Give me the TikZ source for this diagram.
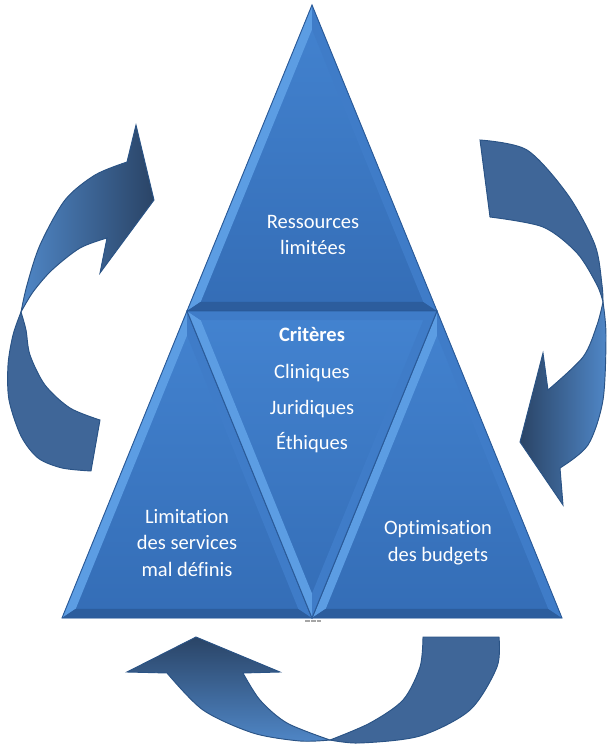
\documentclass[tikz,border=0pt]{standalone}
\usepackage{fontspec}
\setmainfont{Carlito}[Ligatures=NoCommon]
\usetikzlibrary{calc}

\definecolor{facetop}{HTML}{4383D0}
\definecolor{facebot}{HTML}{346DB6}
\definecolor{bevlight}{HTML}{5C9DE3}
\definecolor{bevmid}{HTML}{3F7CC8}
\definecolor{bevdark}{HTML}{2C5D9D}
\definecolor{edgeline}{HTML}{2A5A98}
\definecolor{arrowflat}{HTML}{3F6698}
\definecolor{arrowline}{HTML}{2A5385}
\definecolor{arrowlight}{HTML}{4F86C6}
\definecolor{arrowdark}{HTML}{2A4466}

\tikzset{
	lbl/.style={text=white, font=\fontsize{17.5}{23}\selectfont, align=center, inner sep=0pt},
	arrowback/.style={fill=arrowflat, draw=arrowline, line width=0.8pt},
	arrowfront/.style={draw=arrowline, line width=0.8pt},
}

\newcommand{\facet}[7]{%
	\shade[top color=facetop, bottom color=facebot] (#1) -- (#2) -- (#3) -- cycle;
	\fill[#5] (#1) -- (#2) -- ($(#4)!0.89!(#2)$) -- ($(#4)!0.89!(#1)$) -- cycle;
	\fill[#6] (#2) -- (#3) -- ($(#4)!0.89!(#3)$) -- ($(#4)!0.89!(#2)$) -- cycle;
	\fill[#7] (#3) -- (#1) -- ($(#4)!0.89!(#1)$) -- ($(#4)!0.89!(#3)$) -- cycle;
	\draw[edgeline, line width=0.8pt] (#1) -- (#2) -- (#3) -- cycle;
}

\begin{document}
\begin{tikzpicture}[x=0.03cm, y=-0.03cm]
	\useasboundingbox (0,0) rectangle (608,744);

	\coordinate (T) at (312,5);
	\coordinate (ML) at (187,311);
	\coordinate (MR) at (437,311);
	\coordinate (BL) at (62,618);
	\coordinate (BM) at (312,618);
	\coordinate (BR) at (562,618);
	\coordinate (it) at (312,227);
	\coordinate (il) at (187,534);
	\coordinate (ir) at (437,534);
	\coordinate (im) at (312,395);

	\facet{T}{ML}{MR}{it}{bevlight}{bevdark}{bevmid}
	\facet{ML}{BL}{BM}{il}{bevlight}{bevdark}{bevmid}
	\facet{MR}{BM}{BR}{ir}{bevlight}{bevdark}{bevmid}
	\facet{ML}{BM}{MR}{im}{bevlight}{bevmid}{bevmid}
	\draw[gray!70, line width=1.5pt, dash pattern=on 4pt off 1pt] (305,621) -- (321,621);

	\node[lbl] (ressources) at (313,235) {Ressources\\limitées};
	\node[lbl, font=\fontsize{17.5}{23}\selectfont\bfseries] (criteres) at (312,334) {Critères};
	\node[lbl] (cliniques) at (312,373) {Cliniques};
	\node[lbl] (juridiques) at (312,409) {Juridiques};
	\node[lbl] (ethiques) at (312,443) {Éthiques};
	\node[lbl] (limitation) at (187,543) {Limitation\\des services\\mal définis};
	\node[lbl] (optimisation) at (438,543) {Optimisation\\des budgets};

	\path[arrowback] plot[smooth] coordinates {(21,312) (13,335) (8,365) (9,400) (21,436) (38,458) (62,468) (91,471)}
		-- plot[smooth] coordinates {(100,420) (70,408) (45,385) (30,355) (26,330) (21,312)} -- cycle;
	\shade[arrowfront, left color=arrowlight, right color=arrowdark] plot[smooth] coordinates {(21,312) (27,285) (40,245) (65,200) (95,175) (127,162)}
		-- (136,125) -- (154,200) -- (100,273) -- (107,238)
		-- plot[smooth] coordinates {(107,238) (80,248) (52,270) (33,292) (21,312)} -- cycle;

	\path[arrowback] plot[smooth] coordinates {(480,140) (527,150) (568,195) (595,245) (602,285) (603,302)}
		-- plot[smooth] coordinates {(603,302) (597,285) (577,253) (543,227) (490,217)} -- cycle;
	\shade[arrowfront, left color=arrowdark, right color=arrowlight] plot[smooth] coordinates {(603,302) (606,335) (603,400) (588,445) (560,468)}
		-- (563,505) -- (520,442) -- (543,353) -- (548,390)
		-- plot[smooth] coordinates {(548,390) (583,357) (597,325) (603,302)} -- cycle;

	\path[arrowback] plot[smooth] coordinates {(499,637) (497,667) (470,710) (420,736) (360,743) (330,740)}
		-- plot[smooth] coordinates {(330,740) (370,723) (403,700) (420,667) (423,637)} -- cycle;
	\shade[arrowfront, top color=arrowdark, bottom color=arrowlight] plot[smooth] coordinates {(330,740) (300,741) (253,733) (203,710) (167,673)}
		-- (127,672) -- (196,637) -- (280,672) -- (243,673)
		-- plot[smooth] coordinates {(243,673) (260,700) (287,723) (330,740)} -- cycle;
\end{tikzpicture}
\end{document}
